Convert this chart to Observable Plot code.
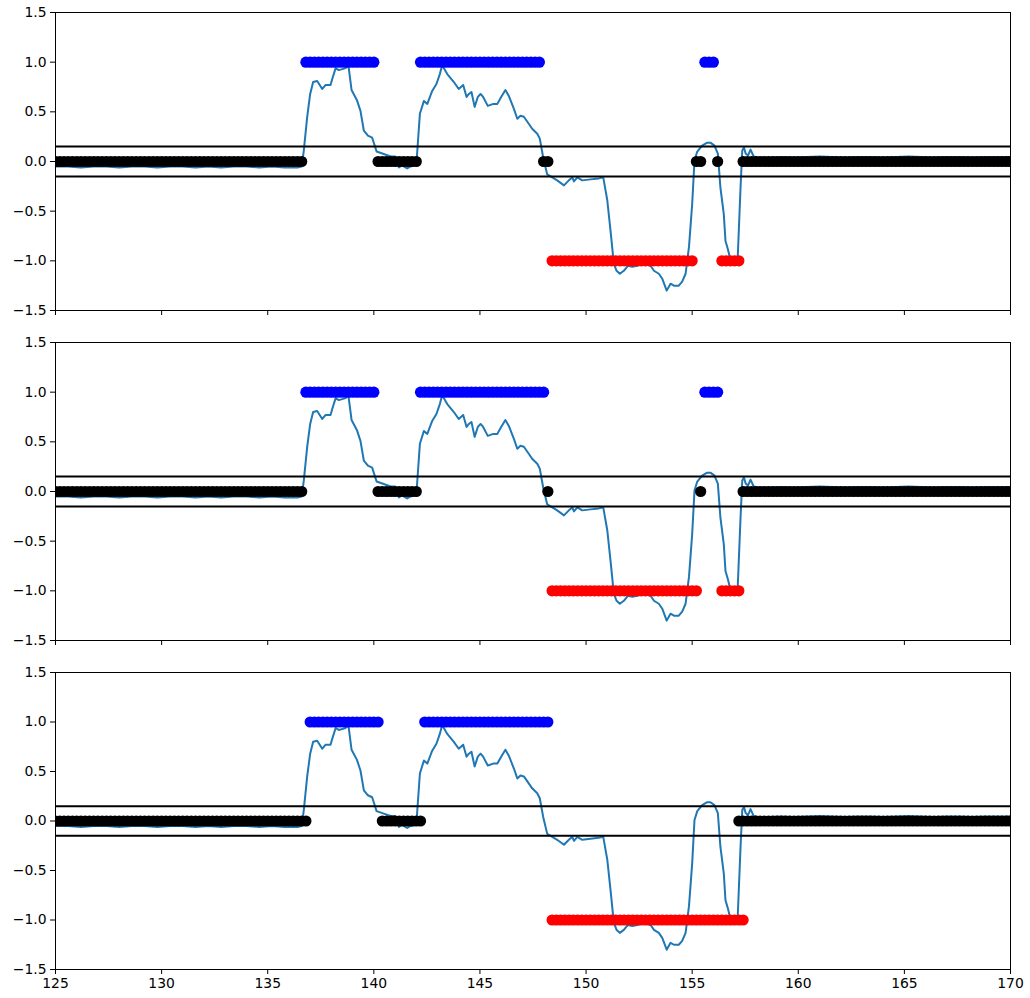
<!DOCTYPE html>
<html><head><meta charset="utf-8">
<script src="https://cdn.jsdelivr.net/npm/d3@7"></script>
<script src="https://cdn.jsdelivr.net/npm/@observablehq/plot@0.6"></script>
<style>
body{margin:0;background:#fff;}
#chart svg{display:block;}
</style>
</head><body><div id="chart"></div>
<script>
// Signal (blue line), same in all three panels
const signalTime = [125.0,125.6,126.2,126.8,127.4,128.0,128.6,129.2,129.8,130.4,131.0,131.6,132.2,132.8,133.4,134.0,134.6,135.2,135.8,136.4,136.6,
  136.7,136.86,137.0,137.14,137.33,137.57,137.72,137.96,138.04,138.2,138.35,138.67,138.8,138.95,139.2,139.37,139.53,139.72,139.92,140.13,140.4,140.79,141.0,141.1,141.18,141.33,141.57,141.73,141.92,142.0,
  142.17,142.36,142.52,142.75,142.95,143.11,143.22,143.46,143.77,144.0,144.21,144.37,144.48,144.6,144.75,144.9,145.03,145.15,145.37,145.63,145.82,146.0,146.2,146.36,146.6,146.76,146.91,147.07,147.3,147.46,147.7,147.82,147.98,148.17,
  148.33,148.64,148.96,149.19,149.35,149.43,149.59,149.82,150.21,150.6,150.81,151.0,151.15,151.31,151.44,151.59,151.78,151.97,152.18,152.41,152.72,153.04,153.2,153.43,153.59,153.8,153.98,154.14,154.37,154.53,154.69,154.85,155.0,
  155.11,155.24,155.47,155.71,155.86,156.05,156.21,156.33,156.49,156.57,156.68,156.77,156.95,157.14,157.28,157.36,157.44,157.52,157.63,157.75,157.9,158.1,
  158.6,159.2,159.8,160.4,161.0,161.6,162.2,162.8,163.4,164.0,164.6,165.2,165.8,166.4,167.0,167.6,168.2,168.8,169.4,170.0];
const signalValue = [-0.05,-0.05,-0.06,-0.05,-0.05,-0.06,-0.05,-0.05,-0.06,-0.05,-0.05,-0.06,-0.05,-0.06,-0.05,-0.05,-0.06,-0.05,-0.06,-0.06,-0.05,
  0.11,0.45,0.68,0.80,0.81,0.73,0.77,0.77,0.83,0.94,0.92,0.94,0.97,0.72,0.62,0.51,0.31,0.26,0.24,0.10,0.08,0.05,0.05,0.03,-0.06,-0.04,-0.07,-0.05,-0.04,-0.04,
  0.48,0.61,0.58,0.71,0.78,0.88,0.97,0.88,0.80,0.73,0.77,0.65,0.68,0.70,0.55,0.65,0.68,0.65,0.56,0.58,0.58,0.65,0.72,0.66,0.53,0.43,0.46,0.45,0.38,0.33,0.28,0.23,0.04,-0.13,
  -0.15,-0.19,-0.24,-0.19,-0.16,-0.20,-0.16,-0.19,-0.18,-0.17,-0.16,-0.39,-0.69,-1.03,-1.10,-1.13,-1.10,-1.05,-1.06,-1.05,-1.03,-1.05,-1.10,-1.13,-1.18,-1.30,-1.23,-1.25,-1.25,-1.21,-1.13,-0.86,-0.43,
  0.01,0.10,0.16,0.19,0.19,0.16,0.08,-0.26,-0.53,-0.80,-0.88,-0.96,-0.99,-1.00,-0.26,0.11,0.14,0.08,0.06,0.12,0.05,0.04,
  0.04,0.045,0.04,0.045,0.05,0.045,0.04,0.045,0.045,0.04,0.045,0.05,0.045,0.04,0.045,0.045,0.04,0.045,0.045,0.045];

const threshold = 0.15;
const sampleStep = 0.2;

// Classification runs per panel (start, end, label: 1 up, 0 flat, -1 down)
const panel1RunStart = [125.0,136.8,140.2,142.2,148.0,148.4,155.2,155.6,156.2,156.4,157.4];
const panel1RunEnd   = [136.6,140.0,142.0,147.8,148.2,155.0,155.4,156.0,156.2,157.2,170.0];
const panel1RunLabel = [0,1,0,1,0,-1,0,1,0,-1,0];

const panel2RunStart = [125.0,136.8,140.2,142.2,148.2,148.4,155.4,155.6,156.4,157.4];
const panel2RunEnd   = [136.6,140.0,142.0,148.0,148.2,155.2,155.4,156.2,157.2,170.0];
const panel2RunLabel = [0,1,0,1,0,-1,0,1,-1,0];

const panel3RunStart = [125.0,137.0,140.4,142.4,148.4,157.2];
const panel3RunEnd   = [136.8,140.2,142.2,148.2,157.4,170.0];
const panel3RunLabel = [0,1,0,1,-1,0];

const xTicks = [125,130,135,140,145,150,155,160,165,170];
const yTicks = [-1.5,-1.0,-0.5,0.0,0.5,1.0,1.5];
const labelColor = {"1":"#0000ff","0":"#000000","-1":"#ff0000"};

const signal = signalTime.map((t,i)=>({t, v: signalValue[i]}));

function expandRuns(starts, ends, labels){
  const pts = [];
  starts.forEach((s,i)=>{
    for(let k=0; s + k*sampleStep <= ends[i] + 1e-9; k++){
      pts.push({t: Math.round((s + k*sampleStep)*10)/10, label: labels[i]});
    }
  });
  return pts;
}

function panel(points, height, marginBottom, showXLabels){
  return Plot.plot({
    width: 1030, height,
    marginLeft: 55, marginRight: 20, marginTop: 12, marginBottom,
    x: {domain: [125,170]},
    y: {domain: [-1.5,1.5]},
    color: {type: "identity"},
    style: {fontFamily: "DejaVu Sans, sans-serif", fontSize: "13.9px", color: "black", background: "white", overflow: "visible"},
    marks: [
      Plot.line(signal, {x: "t", y: "v", stroke: "#1f77b4", strokeWidth: 2, clip: true}),
      Plot.dot(points, {x: "t", y: "label", r: 5.6, fill: d => labelColor[String(d.label)], stroke: null, clip: true}),
      Plot.ruleY([threshold, -threshold], {stroke: "black", strokeWidth: 2}),
      Plot.frame({stroke: "black", strokeWidth: 1}),
      Plot.axisY({ticks: yTicks, tickFormat: d3.format(".1f"), tickSize: 5, tickPadding: 4, label: null}),
      Plot.axisX({ticks: xTicks, tickSize: 5, tickPadding: 4, label: null, tickFormat: showXLabels ? (d => String(d)) : (() => "")})
    ]
  });
}

const chart = document.getElementById("chart");
chart.appendChild(panel(expandRuns(panel1RunStart, panel1RunEnd, panel1RunLabel), 330, 20, false));
chart.appendChild(panel(expandRuns(panel2RunStart, panel2RunEnd, panel2RunLabel), 330, 20, false));
chart.appendChild(panel(expandRuns(panel3RunStart, panel3RunEnd, panel3RunLabel), 338, 29, true));
</script>
</body></html>
